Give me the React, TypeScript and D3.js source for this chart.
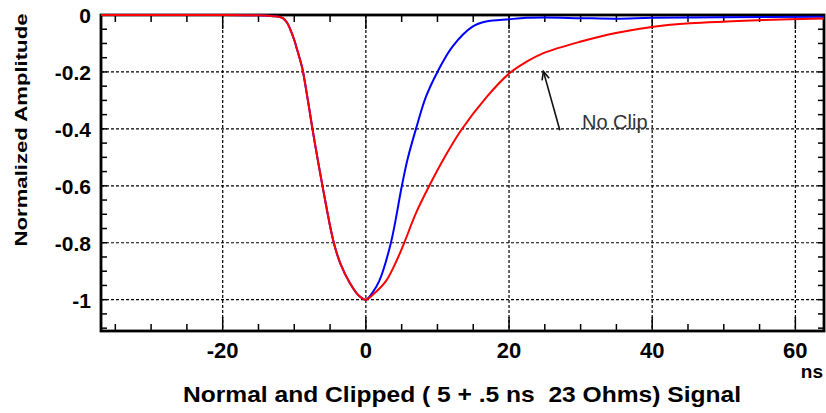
import React from "react";
import * as d3 from "d3";

// Clipped signal (blue)
const clippedTime = [-37, -20, -15, -14, -13, -12, -11.55, -11, -10.52, -10, -9.59, -9, -8.77, -8, -7.46, -6.06, -4.48, -3.5, -2.24, -1, 0, 0.93, 1.86, 3.5, 5.03, 5.8, 7.0, 8.4, 10.0, 12.1, 14.9, 16.8, 20, 22.4, 25, 30, 35, 40, 50, 64];
const clippedAmp = [0, 0, -0.001, -0.002, -0.004, -0.007, -0.012, -0.027, -0.053, -0.088, -0.123, -0.175, -0.2, -0.315, -0.4, -0.6, -0.8, -0.877, -0.941, -0.985, -1, -0.975, -0.935, -0.8, -0.6, -0.509, -0.4, -0.287, -0.2, -0.111, -0.041, -0.023, -0.015, -0.01, -0.009, -0.011, -0.013, -0.01, -0.008, -0.006];

// Unclipped signal (red)
const noClipTime = [-37, -20, -15, -14, -13, -12, -11.55, -11, -10.52, -10, -9.59, -9, -8.77, -8, -7.46, -6.06, -4.48, -3.5, -2.24, -1, 0, 1, 2.8, 4.2, 5.36, 7.0, 8.86, 11, 13.3, 16.8, 20.05, 22.4, 24.8, 29.9, 35.1, 40.2, 45.3, 50.4, 55.6, 64];
const noClipAmp = [0, 0, -0.001, -0.002, -0.004, -0.007, -0.012, -0.027, -0.053, -0.088, -0.123, -0.175, -0.2, -0.315, -0.4, -0.6, -0.8, -0.877, -0.941, -0.985, -1, -0.982, -0.935, -0.868, -0.8, -0.696, -0.6, -0.5, -0.405, -0.29, -0.205, -0.165, -0.134, -0.094, -0.062, -0.041, -0.029, -0.023, -0.018, -0.012];

const xTickLabels = [-20, 0, 20, 40, 60];
const yTickLabels = [0, -0.2, -0.4, -0.6, -0.8, -1];
const xDomain = [-37, 64];
const yDomain = [-1.11, 0];

const W = 826;
const H = 413;
const FONT = "'Liberation Sans', Arial, Helvetica, sans-serif";

export default function App() {
  const left = 101, right = 824, top = 15, bottom = 331;
  const x = d3.scaleLinear().domain(xDomain).range([left, right]);
  const y = d3.scaleLinear().domain(yDomain).range([bottom, top]);

  const line = d3
    .line<[number, number]>()
    .x((d) => x(d[0]))
    .y((d) => y(d[1]))
    .curve(d3.curveCatmullRom.alpha(0.5));

  const bluePts = clippedTime.map((t, i) => [t, clippedAmp[i]] as [number, number]);
  const redPts = noClipTime.map((t, i) => [t, noClipAmp[i]] as [number, number]);

  const xMinor = d3.range(-35, 64, 5);
  const yMinor = d3.range(0, -1.11, -0.05).map((v) => Math.round(v * 100) / 100);

  // annotation arrow
  const tip = { x: x(24.8), y: y(-0.198) };
  const tail = { x: x(27.1), y: y(-0.405) };
  const dx = tail.x - tip.x, dy = tail.y - tip.y;
  const len = Math.hypot(dx, dy);
  const ux = dx / len, uy = dy / len;
  const wing = (ang: number) => {
    const c = Math.cos(ang), s = Math.sin(ang);
    return { x: tip.x + 9 * (ux * c - uy * s), y: tip.y + 9 * (ux * s + uy * c) };
  };
  const w1 = wing(0.42), w2 = wing(-0.42);

  return (
    <svg width={W} height={H} style={{ position: "absolute", left: 0, top: 0, background: "#fff" }} fontFamily={FONT}>
      <rect x={0} y={0} width={W} height={H} fill="#fff" />
      {/* grid */}
      {xTickLabels.map((v) => (
        <line key={"gx" + v} x1={x(v)} x2={x(v)} y1={top} y2={bottom} stroke="#000" strokeWidth={1.2} strokeDasharray="3,2" />
      ))}
      {yTickLabels.filter((v) => v !== 0).map((v) => (
        <line key={"gy" + v} x1={left} x2={right} y1={y(v)} y2={y(v)} stroke="#000" strokeWidth={1.2} strokeDasharray="3,2" />
      ))}
      {/* ticks */}
      {xMinor.map((v) => {
        const major = v % 20 === 0;
        const l = major ? 14 : 7;
        return (
          <g key={"tx" + v}>
            <line x1={x(v)} x2={x(v)} y1={bottom} y2={bottom - l} stroke="#000" strokeWidth={1.5} />
            <line x1={x(v)} x2={x(v)} y1={top} y2={top + l} stroke="#000" strokeWidth={1.5} />
          </g>
        );
      })}
      {yMinor.map((v) => (
        <g key={"ty" + v}>
          <line x1={left} x2={left + 6} y1={y(v)} y2={y(v)} stroke="#000" strokeWidth={1.5} />
          <line x1={right} x2={right - 6} y1={y(v)} y2={y(v)} stroke="#000" strokeWidth={1.5} />
        </g>
      ))}
      {/* frame */}
      <rect x={left} y={top} width={right - left} height={bottom - top} fill="none" stroke="#000" strokeWidth={2.8} />
      {/* curves */}
      <path d={line(bluePts) || ""} fill="none" stroke="#0000ff" strokeWidth={2} />
      <path d={line(redPts) || ""} fill="none" stroke="#ff0000" strokeWidth={2} />
      {/* tick labels */}
      {xTickLabels.map((v) => (
        <text key={"lx" + v} x={x(v)} y={358} textAnchor="middle" fontSize={22} fontWeight="bold" fill="#000">
          {v}
        </text>
      ))}
      {yTickLabels.map((v) => (
        <text key={"ly" + v} x={91} y={y(v) + 8} textAnchor="end" fontSize={21} fontWeight="bold" fill="#000">
          {v}
        </text>
      ))}
      <text x={823} y={378} textAnchor="end" fontSize={19} fontWeight="bold" fill="#000">ns</text>
      {/* titles */}
      <text x={183} y={402} fontSize={22} fontWeight="bold" fill="#000" textLength={558} lengthAdjust="spacingAndGlyphs" style={{ whiteSpace: "pre" }}>
        {"Normal and Clipped ( 5 + .5 ns  23 Ohms) Signal"}
      </text>
      <text
        transform="translate(27,130) rotate(-90)"
        textAnchor="middle"
        fontSize={17}
        fontWeight="bold"
        fill="#000"
        textLength={233}
        lengthAdjust="spacingAndGlyphs"
      >
        Normalized Amplitude
      </text>
      {/* annotation */}
      <line x1={tail.x} y1={tail.y} x2={tip.x} y2={tip.y} stroke="#111" strokeWidth={1.6} />
      <polyline points={`${w1.x},${w1.y} ${tip.x},${tip.y} ${w2.x},${w2.y}`} fill="none" stroke="#111" strokeWidth={1.6} />
      <text x={582} y={129} fontSize={20} fill="#333">No Clip</text>
    </svg>
  );
}
